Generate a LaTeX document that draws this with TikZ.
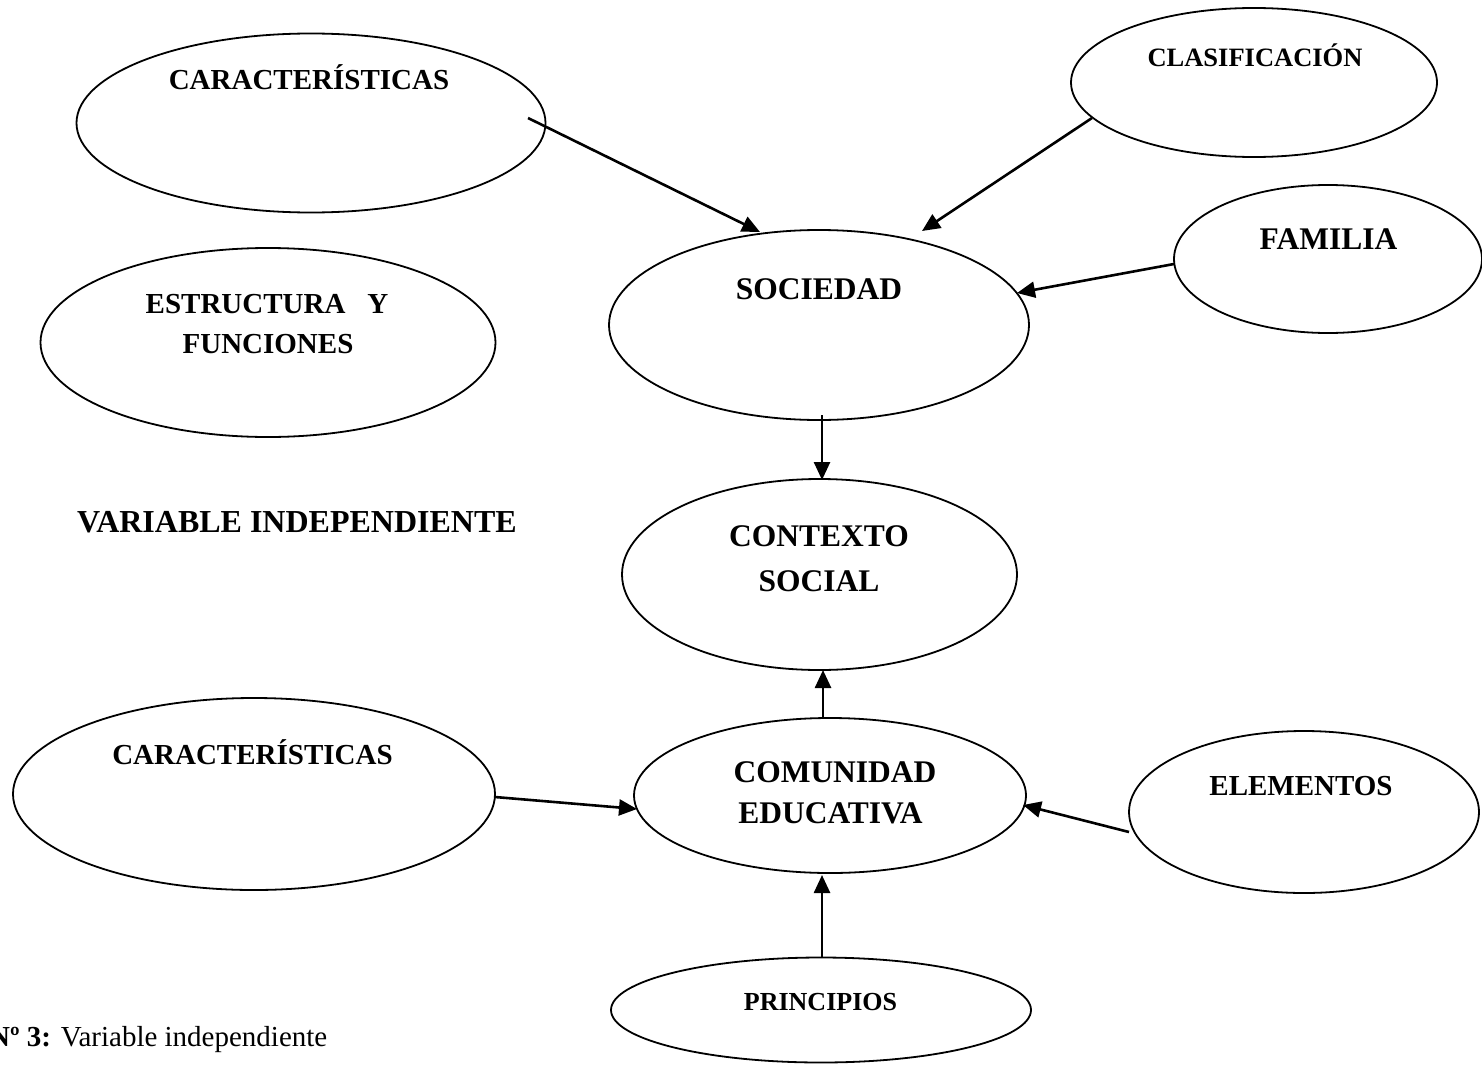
\documentclass[tikz,border=0pt]{standalone}
\usepackage{fontspec}
\setmainfont{Liberation Serif}
\usetikzlibrary{shapes.geometric,arrows.meta}
\tikzset{
  ell/.style={draw=black, line width=1.8pt, ellipse, inner sep=0pt, fill=white},
  big/.style={font=\fontsize{31.5}{38}\selectfont\bfseries, anchor=base, inner sep=0pt},
  mid/.style={font=\fontsize{29}{35}\selectfont\bfseries, anchor=base, inner sep=0pt},
  conn/.style={line width=2.6pt, -{Triangle[length=18pt,width=16pt]}, shorten >=0pt}
}
\begin{document}
\begin{tikzpicture}[x=1pt,y=-1pt]
\clip (0,0) rectangle (1482,1065);
\fill[white] (0,0) rectangle (1482,1065);
% ellipses
\node[ell, minimum width=469pt, minimum height=179pt] (car1) at (311,123) {};
\node[ell, minimum width=366pt, minimum height=149pt] (cla) at (1254,82.5) {};
\node[ell, minimum width=308pt, minimum height=148pt] (fam) at (1328,259) {};
\node[ell, minimum width=420pt, minimum height=190pt] (soc) at (819,325) {};
\node[ell, minimum width=455pt, minimum height=189pt] (est) at (268,342.5) {};
\node[ell, minimum width=395pt, minimum height=191pt] (ctx) at (819.5,574.5) {};
\node[ell, minimum width=482pt, minimum height=192pt] (car2) at (254,794) {};
\node[ell, minimum width=392pt, minimum height=155pt] (com) at (830,795.5) {};
\node[ell, minimum width=350pt, minimum height=162pt] (ele) at (1304,812) {};
\node[ell, minimum width=420pt, minimum height=105pt] (pri) at (821,1010) {};
% texts
\node[mid] (tcar1) at (309,89) {CARACTERÍSTICAS};
\node[mid, font=\fontsize{26.5}{31}\selectfont\bfseries] (tcla) at (1255,66.5) {CLASIFICACIÓN};
\node[big] (tfam) at (1328.5,249) {FAMILIA};
\node[big] (tsoc) at (819,299) {SOCIEDAD};
\node[mid] (test1) at (267,313) {ESTRUCTURA\ \ \ Y};
\node[mid] (test2) at (268,353) {FUNCIONES};
\node[big, font=\fontsize{32}{38}\selectfont\bfseries] (tvar) at (297,532) {VARIABLE INDEPENDIENTE};
\node[big] (tctx1) at (819,546.5) {CONTEXTO};
\node[big] (tctx2) at (819,591.5) {SOCIAL};
\node[mid] (tcar2) at (252.5,764.5) {CARACTERÍSTICAS};
\node[big] (tcom1) at (835,782) {COMUNIDAD};
\node[big] (tcom2) at (830.5,823) {EDUCATIVA};
\node[mid] (tele) at (1301,795.5) {ELEMENTOS};
\node[mid, font=\fontsize{26}{31}\selectfont\bfseries] (tpri) at (820.5,1010.5) {PRINCIPIOS};
\node[anchor=base west, inner sep=0pt, font=\fontsize{29}{34}\selectfont] (cap) at (-11,1046) {\textbf{Nº 3:} Variable independiente};
% connectors
\draw[conn] ([xshift=217pt,yshift=5pt]car1.center) -- ([xshift=-59pt,yshift=93pt]soc.center);
\draw[conn] ([xshift=-162pt,yshift=-35.5pt]cla.center) -- ([xshift=103pt,yshift=94pt]soc.center);
\draw[conn] ([xshift=-154pt,yshift=-5pt]fam.center) -- ([xshift=198pt,yshift=32pt]soc.center);
\draw[conn] ([xshift=3pt,yshift=-90pt]soc.center) -- ([xshift=2.5pt,yshift=94.5pt]ctx.center);
\draw[conn] ([xshift=-7pt,yshift=77.5pt]com.center) -- ([xshift=3.5pt,yshift=-95.5pt]ctx.center);
\draw[conn] ([xshift=241pt,yshift=-3pt]car2.center) -- ([xshift=-193pt,yshift=-13.5pt]com.center);
\draw[conn] ([xshift=-175pt,yshift=-20pt]ele.center) -- ([xshift=193pt,yshift=-9.5pt]com.center);
\draw[conn] ([xshift=1pt,yshift=52pt]pri.center) -- ([xshift=-8pt,yshift=-79.5pt]com.center);
\end{tikzpicture}
\end{document}
